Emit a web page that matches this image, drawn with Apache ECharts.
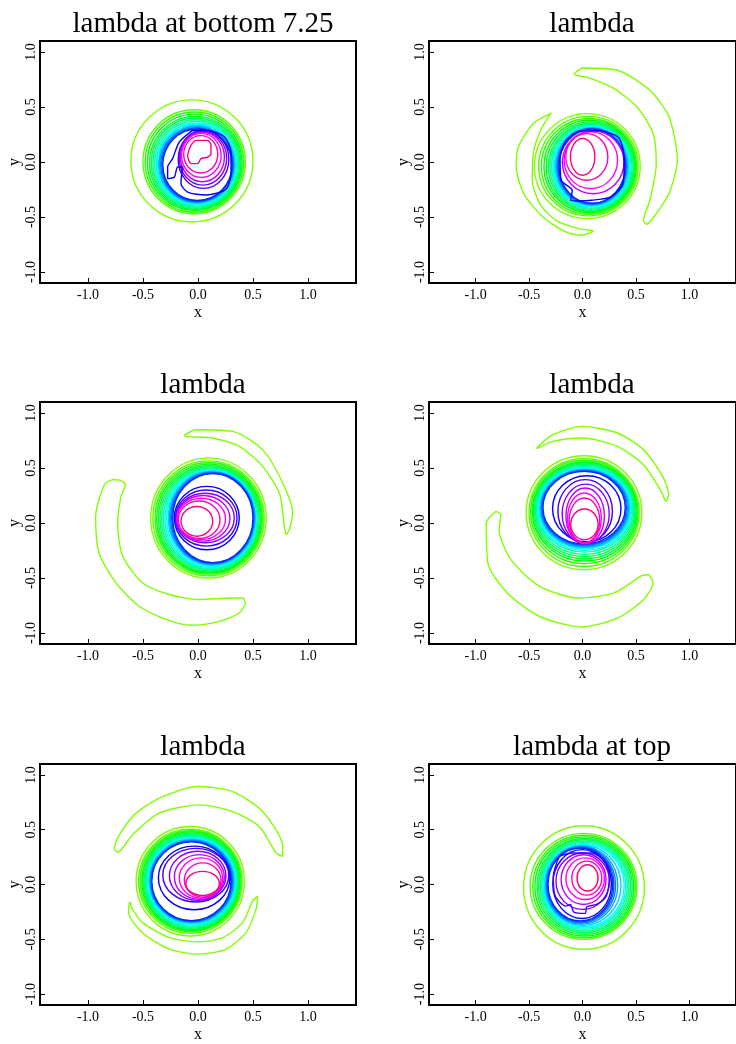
<!DOCTYPE html>
<html><head><meta charset="utf-8">
<script src="https://cdn.jsdelivr.net/npm/echarts@6/dist/echarts.min.js"></script>
<style>html,body{margin:0;padding:0;background:#fff}#c{width:736px;height:1044px}</style>
</head><body><div id="c"></div>
<script>
// ---------- data ----------
const titles = ['lambda at bottom 7.25', 'lambda', 'lambda', 'lambda', 'lambda', 'lambda at top'];
const xTicks = [-1.0, -0.5, 0.0, 0.5, 1.0];
const yTicks = [-1.0, -0.5, 0.0, 0.5, 1.0];
const levelColors = ['#80ff00','#55ff00','#2bff00','#00ff00','#00ff2b','#00ff55','#00ff80','#00ffaa','#00ffd5','#00ffff','#00d5ff','#00aaff','#0080ff','#0055ff','#002bff','#0000ff','#4000ff','#8000ff','#bf00ff','#ff00ff','#ff00bf','#ff0080'];

// contour rings: [level, cx, cy, rx, ry]
const p1Rings = [
 [0,-0.055,0.01,0.555,0.555],[1,-0.035,0.0025,0.465,0.4725],[2,-0.0325,0,0.4475,0.455],
 [3,-0.03,-0.0025,0.43,0.4375],[4,-0.025,-0.0075,0.415,0.4225],[5,-0.0225,-0.01,0.4025,0.41],
 [6,-0.02,-0.0125,0.39,0.3975],[7,-0.0175,-0.015,0.3775,0.385],[8,-0.015,-0.0175,0.365,0.3725],
 [9,-0.014,-0.0185,0.356,0.3635],[10,-0.0125,-0.02,0.3475,0.355],[11,-0.0115,-0.0215,0.3385,0.3465],
 [12,-0.01,-0.0235,0.33,0.3385],[13,-0.0075,-0.024,0.3225,0.332],[14,-0.005,-0.025,0.315,0.325],
 [16,0.05,0.025,0.23,0.265],[17,0.045,0.035,0.215,0.245],[18,0.04,0.045,0.2,0.225],
 [19,0.03,0.06,0.18,0.2],[20,0.025,0.07,0.155,0.17]
];
const p2Rings = [
 [0,0.045,-0.0375,0.495,0.4775],[1,0.055,-0.0375,0.465,0.4525],[2,0.06,-0.04,0.445,0.435],
 [3,0.0675,-0.04,0.4275,0.42],[4,0.0725,-0.0425,0.4125,0.4075],[5,0.0775,-0.044,0.3975,0.396],
 [6,0.08,-0.044,0.385,0.386],[7,0.0825,-0.0435,0.3725,0.3765],[8,0.085,-0.0425,0.36,0.3675],
 [9,0.085,-0.041,0.35,0.359],[10,0.0875,-0.041,0.3425,0.354],[11,0.0875,-0.0405,0.3325,0.3495],
 [12,0.0875,-0.0395,0.3225,0.3455],[13,0.0885,-0.0385,0.3165,0.3415],[14,0.09,-0.0375,0.31,0.3375],
 [18,0.1,-0.003,0.288,0.285],[19,0.078,0.0155,0.25,0.258],[20,0.04,0.046,0.197,0.212],
 [21,0.0015,0.046,0.114,0.167]
];
const p3Rings = [
 [0,0.095,0.045,0.525,0.545],[1,0.095,0.0425,0.505,0.5225],[2,0.0975,0.0425,0.4875,0.5075],
 [3,0.1,0.04,0.475,0.495],[4,0.1025,0.0375,0.4625,0.4825],[5,0.105,0.0375,0.45,0.4725],
 [6,0.1075,0.0375,0.4375,0.4625],[7,0.11,0.0375,0.425,0.4525],[8,0.115,0.0375,0.415,0.4425],
 [9,0.12,0.04,0.405,0.435],[10,0.125,0.0425,0.395,0.4275],[11,0.1275,0.045,0.3875,0.42],
 [12,0.13,0.045,0.38,0.415],[13,0.1325,0.045,0.3725,0.41],[14,0.135,0.045,0.365,0.405],
 [15,0.08,0.045,0.295,0.288],[16,0.075,0.045,0.28,0.255],[17,0.065,0.045,0.265,0.225],
 [18,0.0475,0.0425,0.2425,0.2075],[19,0.03,0.0375,0.22,0.1875],[20,0.01,0.03,0.19,0.17],
 [21,-0.01,0.015,0.144,0.135]
];
const p4Rings = [
 [0,0.014,0.094,0.541,0.518],[1,0.015,0.095,0.515,0.49],[2,0.0175,0.1,0.5025,0.47],
 [3,0.02,0.105,0.49,0.45],[4,0.02,0.11,0.48,0.435],[5,0.02,0.115,0.47,0.42],
 [6,0.02,0.12,0.46,0.405],[7,0.02,0.125,0.45,0.39],[8,0.02,0.1275,0.44,0.3775],
 [9,0.02,0.1315,0.43,0.3665],[10,0.02,0.1325,0.42,0.3575],[11,0.02,0.135,0.41,0.35],
 [12,0.0175,0.1375,0.4025,0.3425],[13,0.016,0.1385,0.394,0.3365],[14,0.015,0.14,0.385,0.33],
 [15,0.04,0.13,0.32,0.3],[16,0.025,0.107,0.255,0.287],[17,0.03,0.083,0.22,0.27],
 [18,0.025,0.064,0.18,0.254],[19,0.018,0.044,0.158,0.229],[20,0.018,0.024,0.143,0.203],
 [21,0.018,-0.012,0.128,0.139]
];
const p5Rings = [
 [0,-0.07,0.03,0.4925,0.5],[1,-0.07,0.03,0.47,0.475],[2,-0.0675,0.03,0.4575,0.46],
 [3,-0.065,0.03,0.445,0.45],[4,-0.064,0.03,0.436,0.44],[5,-0.0625,0.03,0.4275,0.43],
 [6,-0.061,0.03,0.419,0.42],[7,-0.06,0.03,0.41,0.41],[8,-0.0585,0.03,0.4015,0.4],
 [9,-0.057,0.03,0.393,0.39],[10,-0.0565,0.03,0.3865,0.383],[11,-0.057,0.03,0.379,0.376],
 [12,-0.0575,0.03,0.3725,0.37],[13,-0.0585,0.03,0.3665,0.365],[14,-0.06,0.03,0.36,0.36],
 [15,-0.035,0.06,0.325,0.29],[16,-0.02,0.085,0.3,0.245],[17,-0.003,0.079,0.257,0.224],
 [18,0.012,0.069,0.227,0.204],[19,0.027,0.059,0.197,0.184],[20,0.0425,0.041,0.1665,0.156],
 [21,0.042,0.01,0.152,0.11]
];
const p6Rings = [
 [0,0.014,-0.0275,0.565,0.5635],[1,0.0095,-0.0165,0.4995,0.4835],[2,0.015,-0.0175,0.48,0.4675],
 [3,0.0175,-0.0175,0.4625,0.4525],[4,0.02,-0.0175,0.445,0.4375],[5,0.02,-0.016,0.43,0.424],
 [6,0.02,-0.0145,0.415,0.4105],[7,0.019,-0.0125,0.401,0.3975],[8,0.0175,-0.0115,0.3875,0.3865],
 [9,0.015,-0.01,0.375,0.376],[10,0.004,-0.008,0.356,0.366],[11,-0.007,-0.006,0.337,0.356],
 [12,-0.0135,-0.004,0.3235,0.348],[13,-0.0175,-0.002,0.3125,0.34],[14,-0.02,0,0.303,0.333],
 [15,-0.004,0.004,0.274,0.314],[17,0.002,0.03,0.25,0.257],[18,0.01,0.045,0.21,0.227],
 [19,0.025,0.053,0.18,0.19],[20,0.04,0.058,0.14,0.155],[21,0.047,0.06,0.098,0.12]
];

// irregular closed contours: lists of [x, y]
const p1Blue = [[-0.049,0.288],[-0.17,0.182],[-0.231,0.031],[-0.276,-0.045],[-0.276,-0.151],[-0.215,-0.136],[-0.185,-0.045],[-0.14,-0.045],[-0.155,-0.196],[-0.094,-0.273],[0.073,-0.3],[0.255,-0.248],[0.3,-0.091],[0.3,0.091],[0.24,0.23],[0.1,0.285]];
const p1Pink = [[-0.064,0.152],[-0.018,0.197],[0.087,0.197],[0.118,0.152],[0.118,0.076],[0.087,0.045],[0.027,0.03],[-0.004,-0.015],[-0.064,-0.015],[-0.094,0.06]];
const p2Blue = [[-0.157,0.197],[-0.21,0.045],[-0.2,-0.166],[-0.096,-0.257],[-0.112,-0.348],[-0.036,-0.354],[0.085,-0.348],[0.267,-0.318],[0.38,-0.196],[0.39,0.015],[0.34,0.22],[0.145,0.285],[-0.036,0.28]];
const p2ArmA = [[-0.005,0.855],[0.327,0.834],[0.63,0.652],[0.81,0.41],[0.888,0.015],[0.81,-0.287],[0.69,-0.47],[0.6,-0.566],[0.57,-0.53],[0.63,-0.35],[0.69,-0.015],[0.66,0.26],[0.51,0.5],[0.297,0.667],[0.055,0.767],[-0.08,0.797]];
const p2ArmB = [[-0.29,0.445],[-0.46,0.35],[-0.6,0.136],[-0.62,-0.045],[-0.55,-0.287],[-0.37,-0.5],[-0.157,-0.636],[-0.005,-0.666],[0.1,-0.627],[-0.036,-0.606],[-0.25,-0.53],[-0.4,-0.378],[-0.47,-0.167],[-0.46,0.076],[-0.4,0.273],[-0.31,0.425]];
const p3ArmA = [[-0.125,0.795],[-0.02,0.848],[0.315,0.833],[0.587,0.667],[0.77,0.364],[0.86,0.09],[0.83,-0.06],[0.8,-0.106],[0.785,-0.03],[0.74,0.27],[0.587,0.515],[0.375,0.697],[0.133,0.773],[-0.11,0.785]];
const p3ArmB = [[-0.776,0.394],[-0.85,0.35],[-0.93,0.06],[-0.9,-0.27],[-0.745,-0.545],[-0.534,-0.757],[-0.29,-0.876],[-0.064,-0.93],[0.194,-0.894],[0.375,-0.818],[0.43,-0.727],[0.405,-0.682],[0.315,-0.682],[0.012,-0.696],[-0.26,-0.65],[-0.503,-0.545],[-0.685,-0.3],[-0.73,0.0],[-0.7,0.24],[-0.66,0.35],[-0.715,0.39]];
const p4ArmA = [[-0.43,0.68],[-0.278,0.803],[-0.005,0.878],[0.327,0.818],[0.57,0.667],[0.75,0.424],[0.806,0.258],[0.78,0.197],[0.736,0.288],[0.57,0.53],[0.327,0.697],[-0.005,0.773],[-0.278,0.742],[-0.415,0.682]];
const p4ArmB = [[-0.81,0.106],[-0.9,0.0],[-0.885,-0.364],[-0.703,-0.636],[-0.4,-0.85],[-0.005,-0.945],[0.327,-0.864],[0.57,-0.697],[0.66,-0.545],[0.615,-0.47],[0.555,-0.479],[0.297,-0.636],[-0.036,-0.682],[-0.4,-0.576],[-0.67,-0.333],[-0.78,-0.06],[-0.764,0.076]];
const p5ArmA = [[-0.745,0.303],[-0.76,0.333],[-0.595,0.62],[-0.352,0.788],[-0.004,0.894],[0.315,0.848],[0.587,0.666],[0.77,0.348],[0.77,0.257],[0.71,0.288],[0.557,0.53],[0.315,0.666],[0.012,0.727],[-0.352,0.651],[-0.595,0.455],[-0.73,0.294]];
const p5ArmB = [[-0.625,-0.166],[-0.63,-0.257],[-0.504,-0.44],[-0.26,-0.59],[0.012,-0.636],[0.255,-0.59],[0.436,-0.44],[0.527,-0.227],[0.542,-0.106],[0.496,-0.152],[0.405,-0.348],[0.224,-0.485],[0.012,-0.524],[-0.26,-0.485],[-0.504,-0.348],[-0.595,-0.227],[-0.62,-0.16]];
const p6Blue = [[-0.218,0.258],[-0.273,0.076],[-0.255,-0.106],[-0.157,-0.197],[-0.112,-0.182],[-0.082,-0.252],[0.025,-0.264],[0.04,-0.203],[0.131,-0.182],[0.222,-0.106],[0.252,0.061],[0.206,0.212],[0.085,0.288],[-0.096,0.288]];

// ---------- layout ----------
const colLeft = [40, 429], rowTop = [41, 402, 764], GW = 316, GH = 242;
const SERIF = "'Liberation Serif','DejaVu Serif',serif";

const panels = [
  {rings: p1Rings, loops: [[15, p1Blue], [21, p1Pink]]},
  {rings: p2Rings, loops: [[0, p2ArmA], [0, p2ArmB], [15, p2Blue]]},
  {rings: p3Rings, loops: [[0, p3ArmA], [0, p3ArmB]]},
  {rings: p4Rings, loops: [[0, p4ArmA], [0, p4ArmB]]},
  {rings: p5Rings, loops: [[0, p5ArmA], [0, p5ArmB]]},
  {rings: p6Rings, loops: [[16, p6Blue]]}
];

const option = {animation: false, backgroundColor: '#fff', title: [], grid: [], xAxis: [], yAxis: [], series: []};
const LW = 1.4;

panels.forEach((p, i) => {
  const col = i % 2, row = Math.floor(i / 2);
  const left = colLeft[col], top = rowTop[row];
  option.title.push({
    text: titles[i], left: left + GW / 2, top: top - 36, textAlign: 'center',
    textStyle: {fontFamily: SERIF, fontSize: 29, fontWeight: 'normal', color: '#000'}
  });
  option.grid.push({left: left, top: top, width: GW, height: GH, show: true, borderColor: '#000', borderWidth: 2, backgroundColor: 'transparent'});
  option.xAxis.push({
    gridIndex: i, type: 'value', min: -1.436, max: 1.436, position: 'bottom',
    name: 'x', nameLocation: 'middle', nameGap: 22,
    nameTextStyle: {fontFamily: SERIF, fontSize: 16, color: '#000'},
    axisLine: {show: false, onZero: false},
    axisTick: {show: true, inside: true, length: 5, customValues: xTicks, lineStyle: {color: '#000', width: 1}},
    axisLabel: {customValues: xTicks, formatter: v => v.toFixed(1), fontFamily: SERIF, fontSize: 14, color: '#000', margin: 5},
    splitLine: {show: false}
  });
  option.yAxis.push({
    gridIndex: i, type: 'value', min: -1.1, max: 1.1, position: 'left',
    name: 'y', nameLocation: 'middle', nameGap: 17, nameRotate: 90,
    nameTextStyle: {fontFamily: SERIF, fontSize: 16, color: '#000'},
    axisLine: {show: false, onZero: false},
    axisTick: {show: true, inside: true, length: 5, customValues: yTicks, lineStyle: {color: '#000', width: 1}},
    axisLabel: {customValues: yTicks, rotate: 90, formatter: v => v.toFixed(1), fontFamily: SERIF, fontSize: 14, color: '#000', margin: 2},
    splitLine: {show: false}
  });
  option.series.push({
    type: 'custom', xAxisIndex: i, yAxisIndex: i, silent: true,
    encode: {x: 0, y: 1},
    data: p.rings.map(r => [r[1], r[2], r[3], r[4], r[0]]),
    renderItem: function (params, api) {
      const c = api.coord([api.value(0), api.value(1)]);
      const s = api.size([api.value(2), api.value(3)]);
      return {type: 'ellipse', shape: {cx: c[0], cy: c[1], rx: s[0], ry: s[1]},
        style: {fill: 'none', stroke: levelColors[api.value(4)], lineWidth: LW}};
    }
  });
  p.loops.forEach(([lev, pts]) => {
    option.series.push({
      type: 'line', xAxisIndex: i, yAxisIndex: i, silent: true, symbol: 'none', smooth: 0.25,
      data: pts.concat([pts[0]]),
      lineStyle: {color: levelColors[lev], width: LW}
    });
  });
});

const chart = echarts.init(document.getElementById('c'));
chart.setOption(option);
</script>
</body></html>
